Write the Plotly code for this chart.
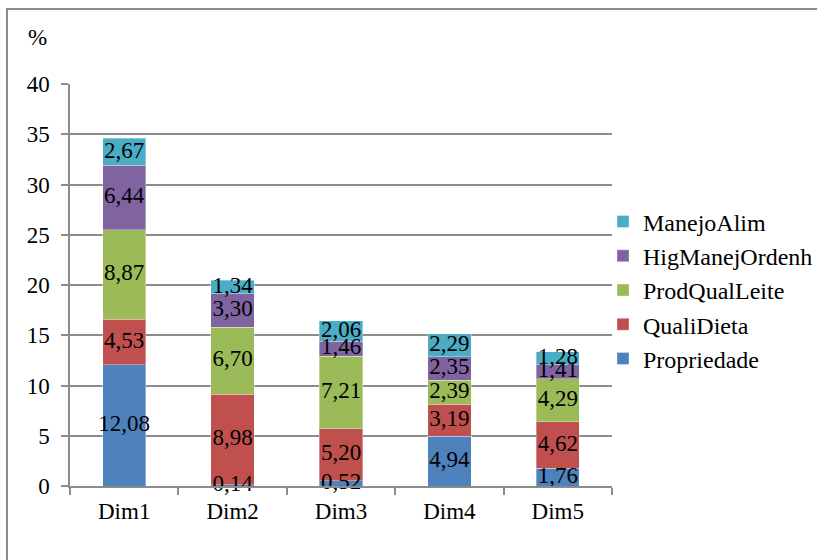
import plotly.graph_objects as go

categories = ["Dim1", "Dim2", "Dim3", "Dim4", "Dim5"]
propriedade = [12.08, 0.14, 0.52, 4.94, 1.76]
qualidieta = [4.53, 8.98, 5.20, 3.19, 4.62]
prodqualleite = [8.87, 6.70, 7.21, 2.39, 4.29]
higmanejordenh = [6.44, 3.30, 1.46, 2.35, 1.41]
manejoalim = [2.67, 1.34, 2.06, 2.29, 1.28]

series_names = ["Propriedade", "QualiDieta", "ProdQualLeite", "HigManejOrdenh", "ManejoAlim"]
series_values = [propriedade, qualidieta, prodqualleite, higmanejordenh, manejoalim]
colors = ["#4F81BD", "#C0504D", "#9BBB59", "#8064A2", "#4BACC6"]
y_ticks = [0, 5, 10, 15, 20, 25, 30, 35, 40]

FONT = "Liberation Serif"
FS = 23
GRID = "#8c8c8c"

fig = go.Figure()
base = [0.0] * len(categories)
label_x, label_y, label_t = [], [], []
for name, vals, col in zip(series_names, series_values, colors):
    fig.add_trace(go.Bar(
        x=categories, y=vals, name=name,
        marker=dict(color=col, line=dict(color="rgba(255,255,255,0.35)", width=1)),
        width=0.4, hoverinfo="x+y+name",
    ))
    for i, v in enumerate(vals):
        label_x.append(categories[i])
        label_y.append(base[i] + v / 2)
        label_t.append(f"{v:.2f}".replace(".", ","))
        base[i] += v

fig.add_trace(go.Scatter(
    x=label_x, y=label_y, text=label_t, mode="text",
    textfont=dict(family=FONT, size=FS, color="black"),
    textposition="middle center", showlegend=False, hoverinfo="skip", cliponaxis=False,
))

fig.update_layout(
    barmode="stack",
    width=817, height=560,
    margin=dict(l=70, r=205, t=84, b=74, autoexpand=False),
    paper_bgcolor="white", plot_bgcolor="white",
    font=dict(family=FONT, size=FS, color="black"),
    legend=dict(
        traceorder="reversed", x=(603 - 70) / 542, y=(486 - 290) / 402, yanchor="middle", xanchor="left",
        font=dict(family=FONT, size=24, color="black"),
        itemwidth=30, tracegroupgap=0, bgcolor="rgba(0,0,0,0)",
    ),
    xaxis=dict(
        showline=True, linecolor=GRID, linewidth=1.5,
        ticks="outside", tickson="boundaries", ticklen=7, tickcolor=GRID, tickwidth=1.5,
        tickfont=dict(family=FONT, size=FS, color="black"),
        ticklabelstandoff=4,
        showgrid=False,
    ),
    yaxis=dict(
        range=[0, 40], tickvals=y_ticks,
        showline=True, linecolor=GRID, linewidth=1.5,
        ticks="outside", ticklen=7, tickcolor=GRID, tickwidth=1.5,
        showgrid=True, gridcolor=GRID, gridwidth=1.5,
        tickfont=dict(family=FONT, size=FS, color="black"),
        ticklabelstandoff=7,
        zeroline=False,
    ),
    annotations=[dict(
        text="%", xref="paper", yref="paper", x=(37 - 70) / 542, y=(486 - 38) / 402,
        showarrow=False, font=dict(family=FONT, size=FS, color="black"),
        xanchor="center", yanchor="middle",
    )],
    shapes=[dict(
        type="rect", xref="paper", yref="paper",
        x0=(7 - 70) / 542, x1=1.45, y0=-0.25, y1=(486 - 9) / 402,
        line=dict(color="#8c8c8c", width=2), fillcolor="rgba(0,0,0,0)", layer="below",
    )],
)

fig.write_html("out.html")
